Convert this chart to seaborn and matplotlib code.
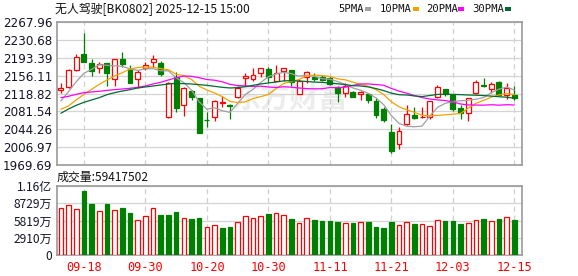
import numpy as np
import pandas as pd
import matplotlib
matplotlib.use("Agg")
import matplotlib.pyplot as plt
import seaborn as sns

# ---------------- data ----------------
dates = ['09-15', '09-16', '09-17', '09-18', '09-19', '09-22', '09-23', '09-24', '09-25', '09-26',
         '09-29', '09-30', '10-09', '10-10', '10-13', '10-14', '10-15', '10-16', '10-17', '10-20',
         '10-21', '10-22', '10-23', '10-24', '10-27', '10-28', '10-29', '10-30', '10-31', '11-03',
         '11-04', '11-05', '11-06', '11-07', '11-10', '11-11', '11-12', '11-13', '11-14', '11-17',
         '11-18', '11-19', '11-20', '11-21', '11-24', '11-25', '11-26', '11-27', '11-28', '12-01',
         '12-02', '12-03', '12-04', '12-05', '12-08', '12-09', '12-10', '12-11', '12-12', '12-15']

open_ = [2126.1, 2133.1, 2167.7, 2200.9, 2181.5, 2171.1, 2181.5, 2148.3, 2189.8, 2169.7,
         2148.3, 2172.5, 2184.9, 2181.5, 2069.4, 2152.4, 2094.3, 2124.0, 2109.5, 2064.5,
         2070.7, 2099.1, 2095.0, 2110.9, 2150.3, 2148.3, 2160.7, 2169.0, 2145.5, 2166.3,
         2167.7, 2117.8, 2153.8, 2153.8, 2153.0, 2150.3, 2131.7, 2119.2, 2122.7, 2117.8,
         2117.8, 2103.3, 2087.3, 2039.6, 2013.3, 2054.8, 2074.2, 2069.3, 2070.7, 2110.9,
         2127.5, 2115.0, 2088.0, 2077.7, 2119.2, 2136.5, 2127.5, 2142.7, 2115.7, 2115.0]
close = [2131.0, 2167.7, 2195.3, 2185.0, 2166.3, 2179.4, 2160.7, 2189.8, 2179.4, 2141.3,
         2162.8, 2178.0, 2189.8, 2158.7, 2140.0, 2089.4, 2129.6, 2110.9, 2037.5, 2063.1,
         2104.0, 2100.5, 2092.9, 2131.0, 2155.2, 2157.3, 2171.1, 2153.8, 2160.7, 2171.1,
         2143.4, 2144.8, 2164.2, 2148.9, 2146.2, 2138.6, 2120.6, 2134.4, 2112.3, 2122.7,
         2105.3, 2074.2, 2063.8, 1999.4, 2041.0, 2075.6, 2068.7, 2070.7, 2103.3, 2131.7,
         2117.1, 2087.3, 2079.0, 2108.8, 2142.0, 2135.1, 2137.9, 2115.7, 2131.0, 2110.2]
high = [2140.0, 2169.0, 2200.9, 2245.2, 2189.8, 2183.6, 2182.9, 2191.2, 2205.0, 2178.0,
        2167.7, 2184.9, 2198.8, 2187.0, 2142.0, 2164.2, 2133.1, 2126.1, 2110.5, 2081.1,
        2105.3, 2113.7, 2096.3, 2135.1, 2162.1, 2171.1, 2172.5, 2174.6, 2178.0, 2172.0,
        2168.5, 2149.7, 2166.3, 2160.7, 2157.3, 2155.2, 2134.4, 2140.0, 2124.7, 2124.7,
        2119.2, 2108.8, 2091.5, 2055.5, 2050.0, 2095.0, 2090.1, 2090.1, 2104.0, 2136.5,
        2128.2, 2117.8, 2095.0, 2109.5, 2146.9, 2150.3, 2142.0, 2144.1, 2141.3, 2134.4]
low = [2120.6, 2131.0, 2165.6, 2184.0, 2155.9, 2162.1, 2134.4, 2135.1, 2174.6, 2140.0,
       2129.6, 2167.7, 2174.6, 2155.2, 2068.5, 2081.1, 2072.8, 2105.3, 2036.1, 2050.0,
       2062.4, 2090.1, 2065.2, 2110.2, 2134.4, 2145.5, 2152.4, 2143.4, 2144.8, 2145.5,
       2135.1, 2117.0, 2140.0, 2144.8, 2144.5, 2136.5, 2101.9, 2112.3, 2111.5, 2105.3,
       2098.4, 2067.3, 2060.3, 1996.0, 2002.9, 2054.0, 2065.9, 2068.0, 2065.9, 2108.8,
       2113.7, 2083.2, 2065.9, 2062.4, 2118.5, 2133.0, 2119.2, 2115.0, 2106.7, 2105.3]

# volume in 万 (10^4 shares)
volume = [7910, 8420, 7740, 10850, 8645, 7400, 8645, 7570, 7970, 7120,
          5880, 6555, 7910, 6780, 6780, 7290, 6215, 6100, 6270, 4690,
          5030, 4575, 4745, 5540, 6555, 6215, 6555, 6950, 7060, 6720,
          6100, 5420, 6160, 5880, 5705, 5705, 5540, 5370, 5370, 5540,
          5540, 4690, 4520, 5540, 5030, 5540, 5200, 5200, 4860, 5880,
          5705, 5705, 5200, 5370, 5880, 6045, 5705, 6045, 6385, 5942]

# moving-average values before each window is complete
ma5_head = [2103.3, 2122.7, 2143.4, 2160.7]
ma10_head = [2086.0, 2092.9, 2105.4, 2117.1, 2127.5, 2137.9, 2146.9, 2155.2, 2162.1]
ma20_head = [2110.2, 2113.0, 2117.1, 2120.6, 2122.0, 2123.4, 2125.4, 2126.8, 2128.2, 2129.6,
             2131.7, 2134.4, 2138.6, 2142.1, 2146.9, 2151.5, 2155.2, 2154.5, 2151.7]
ma30_head = [2077.7, 2086.7, 2094.3, 2100.5, 2105.4, 2110.2, 2116.4, 2120.6, 2124.0, 2126.8,
             2130.3, 2132.4, 2134.4, 2136.5, 2138.6, 2140.0, 2139.3, 2138.6, 2137.2, 2135.8,
             2133.7, 2131.7, 2130.3, 2131.0, 2133.0, 2135.8, 2138.6, 2140.7, 2142.7]

price_ticks = [1969.69, 2006.97, 2044.26, 2081.54, 2118.82, 2156.11, 2193.39, 2230.68, 2267.96]
vol_ticks = [0, 2910, 5819, 8729, 11639]
vol_tick_labels = ['0', '2910万', '5819万', '8729万', '1.16亿']
date_ticks = ['09-18', '09-30', '10-20', '10-30', '11-11', '11-21', '12-03', '12-15']

title = '无人驾驶[BK0802] 2025-12-15 15:00'
vol_title = '成交量:59417502'
ma_names = ['5PMA', '10PMA', '20PMA', '30PMA']

# ---------------- style ----------------
sns.set_theme(style='white')
plt.rcParams['font.family'] = ['DejaVu Sans', 'Noto Sans CJK SC']
CJK = ['Noto Sans CJK SC', 'DejaVu Sans']
RED = '#ff0000'
GREEN = '#008000'
MA_COLORS = ['#a0a0a0', '#f5a200', '#ff00ff', '#006b30']
GRID = '#d4d4d4'
SPINE = '#9a9a9a'

df = pd.DataFrame({'date': dates, 'open': open_, 'close': close, 'high': high,
                   'low': low, 'volume': volume})
df['x'] = np.arange(len(df))
df['up'] = df['close'] >= df['open']
prev = df['close'].shift(1)
df['vol_up'] = (df['close'] >= prev)
df.loc[0, 'vol_up'] = bool(df.loc[0, 'up'])

s = df['close']
for n, head in zip([5, 10, 20, 30], [ma5_head, ma10_head, ma20_head, ma30_head]):
    ma = s.rolling(n).mean()
    ma.iloc[:n - 1] = head
    df[f'ma{n}'] = ma

W, H = 578, 276
def rect(l, t, r, b):
    return [l / W, 1 - b / H, (r - l) / W, (b - t) / H]

fig = plt.figure(figsize=(W / 100, H / 100), dpi=100)
ax = fig.add_axes(rect(57, 21.7, 522, 165.3))
axv = fig.add_axes(rect(57, 186, 522, 255), sharex=ax)

tick_pos = [dates.index(d) for d in date_ticks]

# ---------------- price panel ----------------
ax.text(0.5, 0.47, '东方财富', transform=ax.transAxes, ha='center', va='center',
        fontsize=21, fontweight='bold', color='#ececec', family=CJK, zorder=0)

for xi in tick_pos:
    ax.axvline(xi, color='#cfcfcf', lw=0.9, ls=(0, (4, 3)), zorder=1)
for yv in price_ticks:
    ax.axhline(yv, color=GRID, lw=0.9, zorder=1)

bw = 0.64
for _, r in df.iterrows():
    col = RED if r['up'] else GREEN
    ax.vlines(r['x'], r['low'], r['high'], color=col, lw=0.9, zorder=3)
    bottom = min(r['open'], r['close'])
    h = max(abs(r['close'] - r['open']), 0.6)
    ax.bar(r['x'], h, bottom=bottom, width=bw,
           facecolor='white' if r['up'] else GREEN, edgecolor=col,
           linewidth=0.9, zorder=4)

for n, c in zip([5, 10, 20, 30], MA_COLORS):
    sns.lineplot(data=df, x='x', y=f'ma{n}', color=c, lw=0.9, ax=ax, zorder=5,
                 legend=False)

ax.set_xlim(-0.5, 60.0)
ax.set_ylim(price_ticks[0], price_ticks[-1])
ax.set_yticks(price_ticks)
ax.set_yticklabels([f'{v:.2f}' for v in price_ticks])
ax.tick_params(axis='y', length=2, width=0.8, color=SPINE, pad=1.5,
               labelsize=8.6, labelcolor='#141428')
ax.tick_params(axis='x', length=0, labelbottom=False)
ax.set_xlabel('')
ax.set_ylabel('')
for sp in ax.spines.values():
    sp.set_color(SPINE)
    sp.set_linewidth(1.2)

# ---------------- volume panel ----------------
for xi in tick_pos:
    axv.axvline(xi, color='#cfcfcf', lw=0.9, ls=(0, (4, 3)), zorder=1)
for yv in vol_ticks:
    axv.axhline(yv, color=GRID, lw=0.9, zorder=1)

vcols = [RED if u else GREEN for u in df['vol_up']]
axv.bar(df['x'], df['volume'], width=0.6,
        facecolor=['white' if u else GREEN for u in df['vol_up']],
        edgecolor=vcols, linewidth=0.9, zorder=3)

axv.set_ylim(0, vol_ticks[-1])
axv.set_yticks(vol_ticks)
axv.set_yticklabels(vol_tick_labels, family=CJK)
axv.set_xticks(tick_pos)
axv.set_xticklabels(date_ticks, family='DejaVu Sans Mono')
axv.tick_params(axis='y', length=2, width=0.8, color=SPINE, pad=1.5,
                labelsize=8.6, labelcolor='#141428')
axv.tick_params(axis='x', length=0, pad=4, labelsize=8.6, labelcolor=RED)
for sp in axv.spines.values():
    sp.set_color(SPINE)
    sp.set_linewidth(1.2)

# ---------------- texts ----------------
fig.text(55 / W, 1 - 8.5 / H, title, ha='left', va='center', fontsize=8.6,
         family=CJK, color='#111111')
fig.text(57 / W, 1 - 177.5 / H, vol_title, ha='left', va='center', fontsize=8.6,
         family=CJK, color='#111111')

leg_x = [338, 380, 426, 472]
sq_x = [365, 413, 458, 505]
for name, c, tx, sx in zip(ma_names, MA_COLORS, leg_x, sq_x):
    fig.text(tx / W, 1 - 8.5 / H, name, ha='left', va='center', fontsize=7.6,
             family='DejaVu Sans Mono', color='#111111')
    fig.patches.append(plt.Rectangle((sx / W, 1 - 10.5 / H), 6 / W, 3.5 / H,
                                     transform=fig.transFigure, facecolor=c,
                                     edgecolor='none'))

fig.savefig('out.png', dpi=100)
